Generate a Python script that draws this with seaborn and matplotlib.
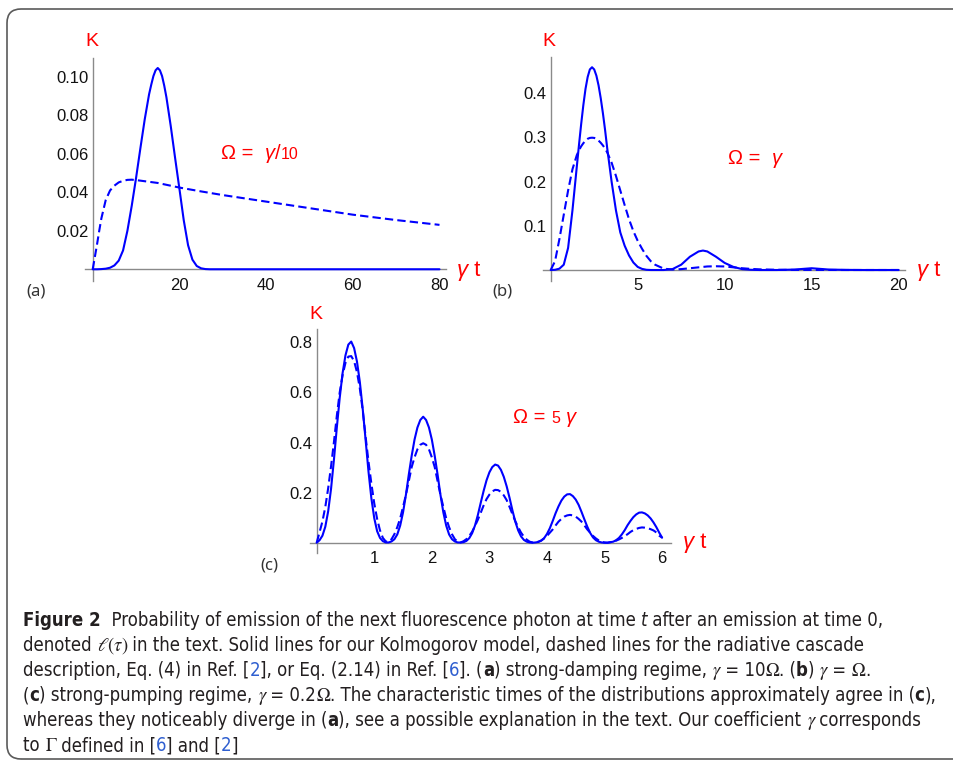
import matplotlib
matplotlib.use("Agg")
import numpy as np
import matplotlib.pyplot as plt
import seaborn as sns
from matplotlib import font_manager as fm
from matplotlib.patches import FancyBboxPatch
from matplotlib.transforms import IdentityTransform

# ---- panel (a): Omega = gamma/10 ----
ta_solid = [0, 1, 2, 3, 4, 5, 6, 7, 8, 9, 10, 11, 12, 13, 13.5, 14, 14.5, 15, 15.5, 16,
            16.5, 17, 18, 19, 20, 21, 22, 23, 24, 25, 26, 27, 28, 30, 80]
ka_solid = [0, 0, 0.0001, 0.0003, 0.0008, 0.002, 0.0045, 0.0098, 0.020, 0.033,
            0.0475, 0.063, 0.078, 0.091, 0.096, 0.1005, 0.1035, 0.1047, 0.1035, 0.1005,
            0.0955, 0.0895, 0.0745, 0.058, 0.0419, 0.0255, 0.0125, 0.005, 0.0017, 0.0005,
            0.0001, 0, 0, 0, 0]
ta_dash = [0, 0.5, 1, 1.5, 2, 3, 4, 5, 6, 7, 8, 9, 10, 12, 15, 20, 25, 30, 40, 50,
           60, 70, 80]
ka_dash = [0, 0.0065, 0.013, 0.020, 0.0265, 0.036, 0.041, 0.0435, 0.0452, 0.046,
           0.0465, 0.0466, 0.0464, 0.0458, 0.0449, 0.0425, 0.0405, 0.0386, 0.0352, 0.0318,
           0.0284, 0.0256, 0.0231]

# ---- panel (b): Omega = gamma ----
tb = [0, 0.25, 0.5, 0.75, 1, 1.25, 1.5, 1.625, 1.75, 1.875, 2, 2.125, 2.25, 2.375, 2.5,
      2.625, 2.75, 2.875, 3, 3.125, 3.25, 3.5, 3.75, 4, 4.25, 4.5, 4.75, 5, 5.25, 5.5,
      5.75, 6, 6.5, 7, 7.5, 8, 8.5, 8.75, 9, 9.5, 10, 10.5, 11, 11.5, 12, 13, 14, 15,
      16, 17, 18, 19, 20]
kb_solid = [0, 0.0005, 0.003, 0.012, 0.05, 0.135, 0.234, 0.283, 0.33, 0.373, 0.41, 0.437,
            0.454, 0.459, 0.454, 0.44, 0.418, 0.389, 0.355, 0.317, 0.275, 0.20, 0.135,
            0.085, 0.055, 0.033, 0.017, 0.007, 0.0025, 0.0005, 0, 0, 0, 0.002, 0.012,
            0.030, 0.042, 0.044, 0.042, 0.030, 0.016, 0.007, 0.002, 0.0005, 0, 0, 0.001,
            0.004, 0.001, 0.0003, 0, 0, 0]
kb_dash = [0, 0.02, 0.07, 0.125, 0.18, 0.228, 0.26, 0.271, 0.28, 0.287, 0.293, 0.297,
           0.299, 0.2995, 0.299, 0.297, 0.293, 0.288, 0.282, 0.275, 0.266, 0.243, 0.213,
           0.18, 0.147, 0.115, 0.088, 0.066, 0.048, 0.032, 0.02, 0.012, 0.003, 0.001,
           0.002, 0.004, 0.006, 0.007, 0.008, 0.0085, 0.008, 0.006, 0.004, 0.0025, 0.0015,
           0.0005, 0.0002, 0.0002, 0.0001, 0, 0, 0, 0]

# ---- panel (c): Omega = 5 gamma, sampled every 0.05 ----
tc = np.round(np.arange(0, 6.001, 0.05), 2)
kc_solid = [0.000, 0.010, 0.028, 0.064, 0.126, 0.216, 0.332, 0.460, 0.578, 0.677,
            0.748, 0.791, 0.803, 0.777, 0.723, 0.641, 0.533, 0.410, 0.284, 0.177,
            0.098, 0.046, 0.019, 0.006, 0.001, 0.001, 0.005, 0.014, 0.033, 0.068,
            0.121, 0.191, 0.272, 0.347, 0.412, 0.460, 0.490, 0.503, 0.490, 0.460,
            0.412, 0.347, 0.272, 0.191, 0.121, 0.068, 0.033, 0.014, 0.005, 0.001,
            0.001, 0.002, 0.007, 0.018, 0.038, 0.069, 0.111, 0.160, 0.207, 0.249,
            0.281, 0.302, 0.312, 0.308, 0.291, 0.263, 0.225, 0.179, 0.129, 0.084,
            0.049, 0.025, 0.011, 0.004, 0.001, 0.000, 0.001, 0.003, 0.008, 0.018,
            0.035, 0.058, 0.087, 0.118, 0.145, 0.168, 0.184, 0.193, 0.194, 0.186,
            0.172, 0.151, 0.123, 0.093, 0.064, 0.039, 0.021, 0.010, 0.004, 0.001,
            0.000, 0.000, 0.002, 0.004, 0.010, 0.019, 0.033, 0.050, 0.070, 0.087,
            0.102, 0.113, 0.120, 0.121, 0.117, 0.109, 0.097, 0.081, 0.062, 0.040,
            0.020]
kc_dash = [0.000, 0.042, 0.085, 0.143, 0.218, 0.306, 0.402, 0.507, 0.600, 0.669,
           0.718, 0.743, 0.745, 0.725, 0.681, 0.615, 0.528, 0.423, 0.324, 0.236,
           0.157, 0.095, 0.049, 0.019, 0.005, 0.004, 0.014, 0.034, 0.062, 0.097,
           0.143, 0.191, 0.246, 0.302, 0.341, 0.373, 0.391, 0.397, 0.391, 0.373,
           0.341, 0.302, 0.246, 0.191, 0.143, 0.097, 0.062, 0.034, 0.014, 0.004,
           0.001, 0.006, 0.014, 0.027, 0.044, 0.067, 0.092, 0.120, 0.149, 0.174,
           0.192, 0.205, 0.211, 0.210, 0.203, 0.189, 0.170, 0.143, 0.114, 0.086,
           0.062, 0.040, 0.024, 0.012, 0.004, 0.001, 0.001, 0.004, 0.009, 0.017,
           0.027, 0.040, 0.053, 0.069, 0.084, 0.095, 0.104, 0.109, 0.111, 0.109,
           0.104, 0.095, 0.084, 0.069, 0.053, 0.040, 0.027, 0.017, 0.009, 0.004,
           0.001, 0.000, 0.002, 0.004, 0.008, 0.013, 0.019, 0.026, 0.034, 0.043,
           0.050, 0.055, 0.059, 0.061, 0.060, 0.058, 0.054, 0.049, 0.041, 0.028,
           0.020]

W, H = 954, 772
BLUE = "#0000ff"
RED = "#ff0000"
AXIS_GREY = "#8a8a8a"

sns.set_style("white")
plt.rcParams["font.family"] = ["Liberation Sans", "DejaVu Sans"]
plt.rcParams["mathtext.fontset"] = "stix"

fig = plt.figure(figsize=(W / 100, H / 100), dpi=100)
renderer = fig.canvas.get_renderer()


def px_axes(left, top, right, bottom):
    return fig.add_axes([left / W, 1 - bottom / H, (right - left) / W, (bottom - top) / H])


def seg_width(text, props):
    a = fig.text(0, 0, "|" + text + "|", **props)
    b = fig.text(0, 0, "||", **props)
    w = a.get_window_extent(renderer).width - b.get_window_extent(renderer).width
    a.remove()
    b.remove()
    return w


def draw_segments(x, y, segs):
    for text, props in segs:
        fig.text(x / W, 1 - y / H, text, ha="left", va="baseline", **props)
        x += seg_width(text, props)
    return x


def style_axes(ax, xlim, ylim, xmaj, xmin, ymaj, ymin, ylabels):
    ax.set_xlim(*xlim)
    ax.set_ylim(*ylim)
    ax.patch.set_alpha(0)
    for s in ["top", "right"]:
        ax.spines[s].set_visible(False)
    for s in ["left", "bottom"]:
        ax.spines[s].set_position(("data", 0))
        ax.spines[s].set_color(AXIS_GREY)
        ax.spines[s].set_linewidth(1.0)
        ax.spines[s].set_zorder(1)
    ax.set_xticks(xmaj)
    ax.set_xticks(xmin, minor=True)
    ax.set_yticks(ymaj)
    ax.set_yticklabels(ylabels)
    ax.set_yticks(ymin, minor=True)
    ax.tick_params(which="both", direction="in", color=AXIS_GREY, width=0.8,
                   labelsize=12, labelcolor="#111111")
    ax.tick_params(which="major", length=4)
    ax.tick_params(which="minor", length=2)
    ax.tick_params(axis="x", pad=6)
    ax.tick_params(axis="y", pad=3)
    ax.set_xlabel("")
    ax.set_ylabel("")


def curves(ax, t1, k1, t2, k2):
    sns.lineplot(x=t1, y=k1, ax=ax, color=BLUE, lw=1.5, zorder=3)
    sns.lineplot(x=t2, y=k2, ax=ax, color=BLUE, lw=1.5, zorder=3)
    ax.lines[-1].set_dashes((4, 2))


# panel (a)
axa = px_axes(85, 58, 446, 281)
curves(axa, ta_solid, ka_solid, ta_dash, ka_dash)
style_axes(axa, (-1.78, 81.5), (-0.0061, 0.1099), [20, 40, 60, 80], np.arange(5, 81, 5),
           [0.02, 0.04, 0.06, 0.08, 0.10], np.arange(0.005, 0.11, 0.005),
           ["0.02", "0.04", "0.06", "0.08", "0.10"])

# panel (b)
axb = px_axes(542.7, 57.3, 905.3, 281)
curves(axb, tb, kb_solid, tb, kb_dash)
style_axes(axb, (-0.46, 20.38), (-0.0249, 0.4815), [5, 10, 15, 20], np.arange(1, 21, 1),
           [0.1, 0.2, 0.3, 0.4], np.arange(0.02, 0.48, 0.02),
           ["0.1", "0.2", "0.3", "0.4"])

# panel (c)
axc = px_axes(310, 329.3, 670.7, 553.3)
curves(axc, tc, kc_solid, tc, kc_dash)
style_axes(axc, (-0.116, 6.149), (-0.0423, 0.852), [1, 2, 3, 4, 5, 6], np.arange(0.2, 6.1, 0.2),
           [0.2, 0.4, 0.6, 0.8], np.arange(0.05, 0.85, 0.05),
           ["0.2", "0.4", "0.6", "0.8"])

# red axis names and parameter labels
kprops = dict(color=RED, fontsize=14)
big = dict(color=RED, fontsize=14.5)
big_it = dict(big, fontstyle="italic")
small = dict(color=RED, fontsize=11.5)
tname = dict(color=RED, fontsize=16)
tname_it = dict(tname, fontstyle="italic")
for x, y in [(91.7, 46), (549.3, 46), (316, 319.3)]:
    fig.text(x / W, 1 - y / H, "K", ha="center", va="baseline", **kprops)
for x, y in [(457, 276.5), (917, 276.5), (683, 548.3)]:
    draw_segments(x, y, [("\u03b3", tname_it), (" t", tname)])

draw_segments(221, 159, [("\u03a9 =  ", big), ("\u03b3", big_it), ("/", big), ("10", small)])
draw_segments(728, 163.5, [("\u03a9 =  ", big), ("\u03b3", big_it)])
draw_segments(513, 423, [("\u03a9 = ", big), ("5", small), (" ", big), ("\u03b3", big_it)])

plabel = dict(color="#333333", fontsize=12, family=["Noto Sans", "DejaVu Sans"])
for x, y, s in [(26, 296, "(a)"), (492.7, 296, "(b)"), (260, 569, "(c)")]:
    fig.text(x / W, 1 - y / H, s, ha="left", va="baseline", **plabel)

# figure frame
frame = FancyBboxPatch((7, H - 759), 1000, 750, boxstyle="round,pad=0,rounding_size=14",
                       transform=IdentityTransform(), fill=False, ec="#5a5a5a", lw=1.2)
fig.add_artist(frame)


# caption
def pick_caption_font():
    for fam, stretch in [("Liberation Sans Narrow", "normal"), ("DejaVu Sans", "condensed"),
                         ("Noto Sans", "condensed"), ("Open Sans", "condensed")]:
        try:
            path = fm.findfont(fm.FontProperties(family=fam, stretch=stretch),
                               fallback_to_default=False)
        except ValueError:
            continue
        low = path.lower()
        if "narrow" in low or "condensed" in low:
            return fam, stretch
    return "Noto Sans", "normal"


cap_family, cap_stretch = pick_caption_font()


def cap_props(size):
    reg = dict(family=[cap_family, "DejaVu Sans"], fontstretch=cap_stretch, fontsize=size,
               color="#231f20")
    bold = dict(reg, fontweight="bold")
    ital = dict(reg, fontstyle="italic")
    link = dict(reg, color="#2f5fd0")
    return reg, bold, ital, link


def caption_lines(size):
    R, B, I, L = cap_props(size)
    return [
        [("Figure 2", B), ("  Probability of emission of the next fluorescence photon at time ", R),
         ("t", I), (" after an emission at time 0,", R)],
        [("denoted ", R), (r"$\ell(\tau)$", R),
         (" in the text. Solid lines for our Kolmogorov model, dashed lines for the radiative cascade", R)],
        [("description, Eq. (4) in Ref. [", R), ("2", L), ("], or Eq. (2.14) in Ref. [", R), ("6", L),
         ("]. (", R), ("a", B), (") strong-damping regime, ", R), (r"$\gamma$", R), (" = 10", R),
         (r"$\Omega$", R), (". (", R), ("b", B), (") ", R), (r"$\gamma$", R), (" = ", R),
         (r"$\Omega$", R), (".", R)],
        [("(", R), ("c", B), (") strong-pumping regime, ", R), (r"$\gamma$", R), (" = 0.2", R),
         (r"$\Omega$", R), (". The characteristic times of the distributions approximately agree in (", R),
         ("c", B), ("),", R)],
        [("whereas they noticeably diverge in (", R), ("a", B),
         ("), see a possible explanation in the text. Our coefficient ", R), (r"$\gamma$", R),
         (" corresponds", R)],
        [("to ", R), (r"$\Gamma$", R), (" defined in [", R), ("6", L), ("] and [", R), ("2", L),
         ("]", R)],
    ]


base = 10.0
w4 = sum(seg_width(t, p) for t, p in caption_lines(base)[3])
cap_size = base * 920 / w4
for y, segs in zip([626, 651, 676, 701, 726, 751], caption_lines(cap_size)):
    draw_segments(23, y, segs)

fig.savefig("out.png", dpi=100)
